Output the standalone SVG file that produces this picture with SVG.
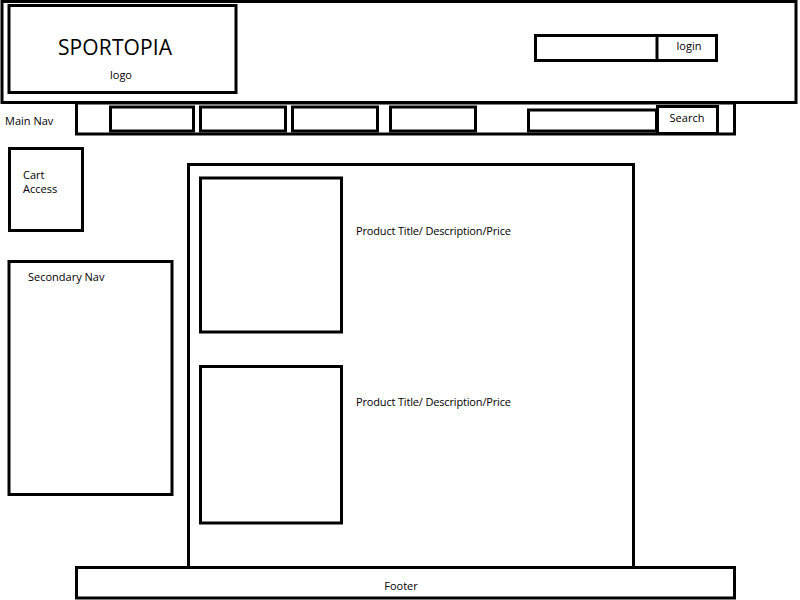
<svg xmlns="http://www.w3.org/2000/svg" width="800" height="600" viewBox="0 0 800 600">
<style>
.b{fill:#fff;stroke:#000;stroke-width:3}
.t{font-family:"Open Sans","Liberation Sans",sans-serif;font-size:11px;fill:#000}
</style>
<rect width="800" height="600" fill="#fff"/>
<g id="header">
<rect class="b" x="2" y="1.5" width="794" height="101"/>
</g>
<g id="logo">
<rect class="b" x="9" y="5.5" width="227" height="87"/>
<text class="t" x="115" y="55" text-anchor="middle" style="font-size:21px" textLength="114">SPORTOPIA</text>
<text class="t" x="121" y="79" text-anchor="middle">logo</text>
</g>
<g id="login">
<rect class="b" x="535.5" y="35.5" width="181" height="25"/>
<line x1="657" y1="35.5" x2="657" y2="60.5" stroke="#000" stroke-width="3"/>
<text class="t" x="689" y="50" text-anchor="middle">login</text>
</g>
<g id="main-nav">
<text class="t" x="5" y="125">Main Nav</text>
<rect class="b" x="76.5" y="103" width="658" height="31"/>
<rect class="b" x="110.5" y="107" width="83" height="24"/>
<rect class="b" x="200.5" y="107" width="85" height="24"/>
<rect class="b" x="292.5" y="107" width="85" height="24"/>
<rect class="b" x="390.5" y="107" width="85" height="24"/>
</g>
<g id="search">
<rect class="b" x="528.5" y="110" width="128" height="21"/>
<rect class="b" x="657.5" y="106.5" width="60" height="27"/>
<text class="t" x="687" y="122" text-anchor="middle">Search</text>
</g>
<g id="cart">
<rect class="b" x="9.5" y="148.5" width="73" height="82"/>
<text class="t" x="23" y="179">Cart</text>
<text class="t" x="23" y="193">Access</text>
</g>
<g id="secondary-nav">
<rect class="b" x="9" y="261.5" width="163" height="233"/>
<text class="t" x="28" y="281">Secondary Nav</text>
</g>
<g id="content">
<rect class="b" x="188.5" y="164.5" width="445" height="405"/>
<rect class="b" x="200.5" y="178" width="141" height="154"/>
<text class="t" x="356" y="235" textLength="155">Product Title/ Description/Price</text>
<rect class="b" x="200.5" y="366.5" width="141" height="156.5"/>
<text class="t" x="356" y="406" textLength="155">Product Title/ Description/Price</text>
</g>
<g id="footer">
<rect class="b" x="76.5" y="567.5" width="658" height="30.5"/>
<text class="t" x="401" y="590" text-anchor="middle">Footer</text>
</g>
</svg>
